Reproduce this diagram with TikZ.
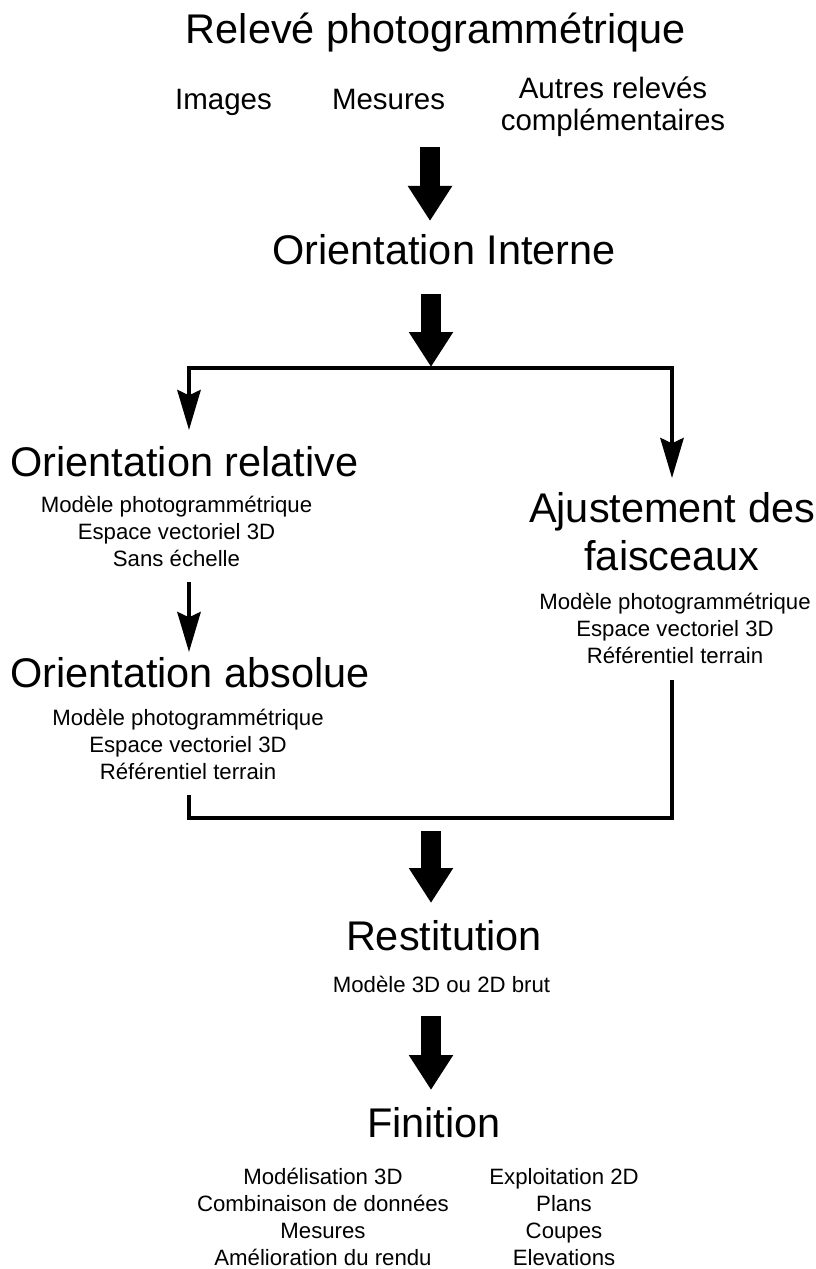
\documentclass[tikz,border=0pt]{standalone}
\usepackage{fontspec}
\setmainfont{Liberation Sans}
\usetikzlibrary{arrows.meta}

\begin{document}
\begin{tikzpicture}[x=0.75pt, y=-0.75pt,
          big/.style={inner sep=0pt, anchor=base, align=center, font=\fontsize{31.1pt}{36pt}\selectfont},
          mid/.style={inner sep=0pt, anchor=base, align=center, font=\fontsize{22.1pt}{24.4pt}\selectfont},
          sub/.style={inner sep=0pt, anchor=base, align=center, font=\fontsize{16.65pt}{20.1pt}\selectfont},
          fat/.style={line width=15pt, -{Triangle[length=26.25pt, width=31.5pt]}},
          thin/.style={line width=3pt, -{Stealth[length=30pt, width=17.5pt, inset=4pt]}}]
        \useasboundingbox (0,0) rectangle (816,1269);
        \node[big] (title) at (436,44) {Relevé photogrammétrique};
        \node[mid] (img) at (223.5,110) {Images};
        \node[mid] (mes) at (388.5,110) {Mesures};
        \node[mid] (autres) at (613,131) {Autres relevés\\complémentaires};
        \node[big] (oint) at (444,265) {Orientation Interne};
        \node[big] (orel) at (184.5,476) {Orientation relative};
        \node[sub] (orelsub) at (176.5,566) {Modèle photogrammétrique\\Espace vectoriel 3D\\Sans échelle};
        \node[big] (oabs) at (190,687) {Orientation absolue};
        \node[sub] (oabssub) at (188,779.5) {Modèle photogrammétrique\\Espace vectoriel 3D\\Référentiel terrain};
        \node[big] (ajust) at (672,570) {Ajustement des\\faisceaux};
        \node[sub] (ajustsub) at (675,663) {Modèle photogrammétrique\\Espace vectoriel 3D\\Référentiel terrain};
        \node[big] (rest) at (444,950) {Restitution};
        \node[sub] (restsub) at (441.5,992) {Modèle 3D ou 2D brut};
        \node[big] (fin) at (434,1137) {Finition};
        \node[sub] (finL) at (323,1265) {Modélisation 3D\\Combinaison de données\\Mesures\\Amélioration du rendu};
        \node[sub] (finR) at (564,1265) {Exploitation 2D\\Plans\\Coupes\\Elevations};
        \coordinate (a1) at (430,147);
        \coordinate (b1) at (430,221);
        \coordinate (a2) at (431,294);
        \coordinate (fork) at (431,367);
        \coordinate (relin) at (189,430);
        \coordinate (ajin) at (672,478);
        \coordinate (relout) at (189,582);
        \coordinate (absin) at (189,652);
        \coordinate (absout) at (189,795);
        \coordinate (ajout) at (672,680);
        \coordinate (join) at (431,818);
        \coordinate (a3) at (431,831);
        \coordinate (b3) at (431,903);
        \coordinate (a4) at (431,1016);
        \coordinate (b4) at (431,1090);
        \draw[fat] (a1) -- (b1);
        \draw[fat] (a2) -- (fork);
        \draw[thin] ([yshift=-0.75pt]fork) -| (relin);
        \draw[thin] ([yshift=-0.75pt]fork) -| (ajin);
        \draw[thin] (relout) -- (absin);
        \draw[line width=3pt] (absout) |- (join) -| (ajout);
        \draw[fat] (a3) -- (b3);
        \draw[fat] (a4) -- (b4);
      \end{tikzpicture}
\end{document}
